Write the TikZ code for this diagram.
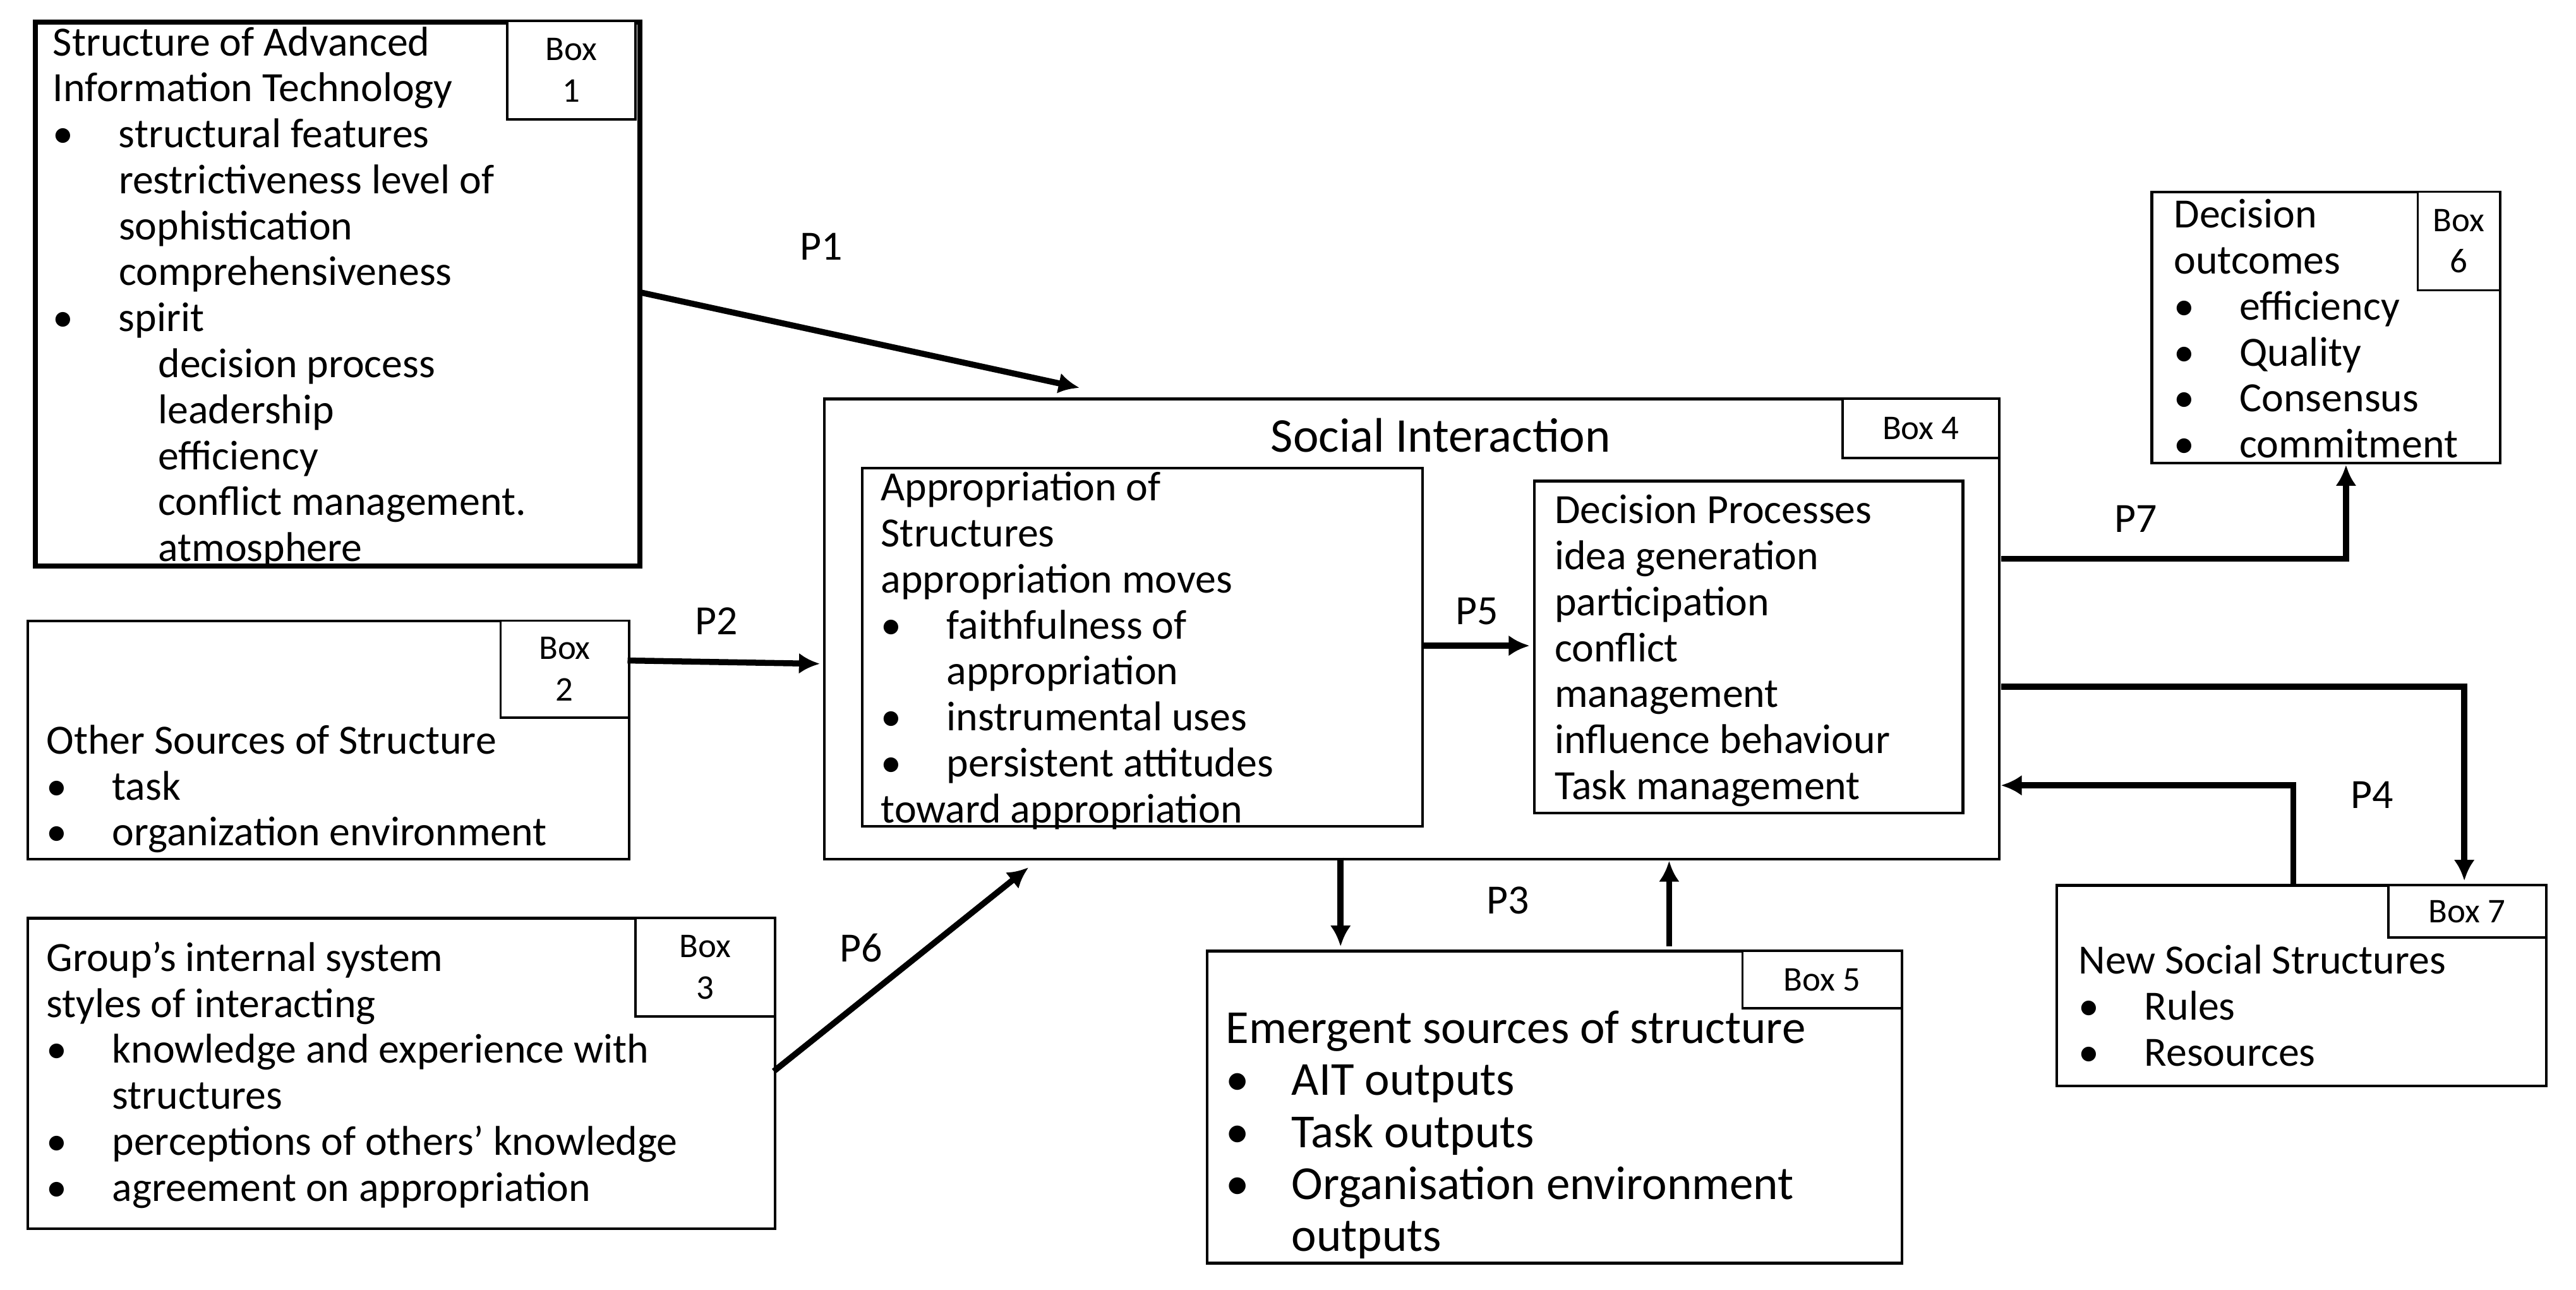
\documentclass[tikz,border=0pt]{standalone}
\usepackage{fontspec}
\setmainfont{Carlito}
\usetikzlibrary{arrows.meta}
\newcommand{\bl}{\makebox[1cm][l]{\textbullet}}
\newcommand{\bk}{\makebox[1cm][l]{\textbullet}}
\begin{document}
\begin{tikzpicture}[x=0.025cm,y=-0.025cm,
  box/.style={draw,line width=1.2pt},
  lab/.style={draw,line width=1pt,fill=white,align=center,inner sep=0pt,font=\fontsize{15}{18}\selectfont},
  txt/.style={anchor=north west,inner sep=0pt,align=left,font=\fontsize{18}{19.9}\selectfont},
  arr/.style={line width=2.6pt,-{Latex[length=9pt,width=9pt]}},
  pl/.style={font=\fontsize{18}{20}\selectfont}]
\useasboundingbox (0,0) rectangle (1568,785);
% Box1
\node[box,line width=2.2pt,minimum width=368*0.025cm,minimum height=331*0.025cm,anchor=north west] (b1) at (20,12) {};
\node[lab,minimum width=78*0.025cm,minimum height=60*0.025cm,anchor=north west] (l1) at (308,12) {Box\\1};
\node[txt] (t1) at (32,16) {Structure of Advanced\\Information Technology\\\bl structural features\\\hspace*{1cm}restrictiveness level of\\\hspace*{1cm}sophistication\\\hspace*{1cm}comprehensiveness\\\bl spirit\\\hspace*{1.6cm}decision process\\\hspace*{1.6cm}leadership\\\hspace*{1.6cm}efficiency\\\hspace*{1.6cm}conflict management.\\\hspace*{1.6cm}atmosphere};
% Box2
\node[box,minimum width=366*0.025cm,minimum height=145*0.025cm,anchor=north west] (b2) at (16,377) {};
\node[lab,minimum width=78*0.025cm,minimum height=59*0.025cm,anchor=north west] (l2) at (304,377) {Box\\2};
\node[txt] (t2) at (28,441) {Other Sources of Structure\\\bl task\\\bl organization environment};
% Box3
\node[box,minimum width=455*0.025cm,minimum height=189*0.025cm,anchor=north west] (b3) at (16,558) {};
\node[lab,minimum width=85*0.025cm,minimum height=60*0.025cm,anchor=north west] (l3) at (386,558) {Box\\3};
\node[txt] (t3) at (28,573) {Group’s internal system\\styles of interacting\\\bl knowledge and experience with\\\hspace*{1cm}structures\\\bl perceptions of others' knowledge\\\bl agreement on appropriation};
% Box4
\node[box,minimum width=715*0.025cm,minimum height=280*0.025cm,anchor=north west] (b4) at (501,242) {};
\node[lab,minimum width=95*0.025cm,minimum height=36*0.025cm,anchor=north west] (l4) at (1121,242) {Box 4};
\node[font=\fontsize{21}{24}\selectfont] (si) at (877,265) {Social Interaction};
\node[box,minimum width=341*0.025cm,minimum height=218*0.025cm,anchor=north west] (ap) at (524,284) {};
\node[txt] (tap) at (536,287) {Appropriation of\\Structures\\appropriation moves\\\bl faithfulness of\\\hspace*{1cm}appropriation\\\bl instrumental uses\\\bl persistent attitudes\\toward appropriation};
\node[box,minimum width=261*0.025cm,minimum height=202*0.025cm,anchor=north west] (dp) at (933,292) {};
\node[txt] (tdp) at (946,301) {Decision Processes\\idea generation\\participation\\conflict\\management\\influence behaviour\\Task management};
% Box5
\node[box,minimum width=423*0.025cm,minimum height=190*0.025cm,anchor=north west] (b5) at (734,578) {};
\node[lab,minimum width=97*0.025cm,minimum height=35*0.025cm,anchor=north west] (l5) at (1060,578) {Box 5};
\node[txt,font=\fontsize{20.5}{22.5}\selectfont] (t5) at (746,615) {Emergent sources of structure\\\bl AIT outputs\\\bl Task outputs\\\bl Organisation environment\\\hspace*{1cm}outputs};
% Box6
\node[box,minimum width=212*0.025cm,minimum height=165*0.025cm,anchor=north west] (b6) at (1309,116) {};
\node[lab,minimum width=50*0.025cm,minimum height=60*0.025cm,anchor=north west] (l6) at (1471,116) {Box\\6};
\node[txt] (t6) at (1323,121) {Decision\\outcomes\\\bk efficiency\\\bk Quality\\\bk Consensus\\\bk commitment};
% Box7
\node[box,minimum width=298*0.025cm,minimum height=122*0.025cm,anchor=north west] (b7) at (1251,538) {};
\node[lab,minimum width=96*0.025cm,minimum height=32*0.025cm,anchor=north west] (l7) at (1453,538) {Box 7};
\node[txt] (t7) at (1265,575) {New Social Structures\\\bl Rules\\\bl Resources};
% coordinates
\coordinate (p1s) at (390,178); \coordinate (p1e) at (657,236);
\coordinate (p2s) at (382,402); \coordinate (p2e) at (499,404);
\coordinate (p6s) at (471,652); \coordinate (p6e) at (626,528);
\coordinate (p5s) at (865,393); \coordinate (p5e) at (931,393);
\coordinate (d1) at (816,522); \coordinate (d2) at (816,576);
\coordinate (u1) at (1016,576); \coordinate (u2) at (1016,524);
\coordinate (p7s) at (1218,340); \coordinate (p7e) at (1428,283);
\coordinate (p4s) at (1218,418); \coordinate (p4e) at (1500,536);
\coordinate (r1) at (1396,540); \coordinate (r2) at (1218,478);
\draw[arr] (p1s) -- (p1e);
\draw[arr] (p2s) -- (p2e);
\draw[arr] (p6s) -- (p6e);
\draw[arr] (p5s) -- (p5e);
\draw[arr] (d1) -- (d2);
\draw[arr] (u1) -- (u2);
\draw[arr] (p7s) -| (p7e);
\draw[arr] (p4s) -| (p4e);
\draw[arr] (r1) |- (r2);
\node[pl] at (500,150) {P1};
\node[pl] at (436,378) {P2};
\node[pl] at (524,577) {P6};
\node[pl] at (899,372) {P5};
\node[pl] at (918,548) {P3};
\node[pl] at (1300,316) {P7};
\node[pl] at (1444,484) {P4};
\end{tikzpicture}
\end{document}
